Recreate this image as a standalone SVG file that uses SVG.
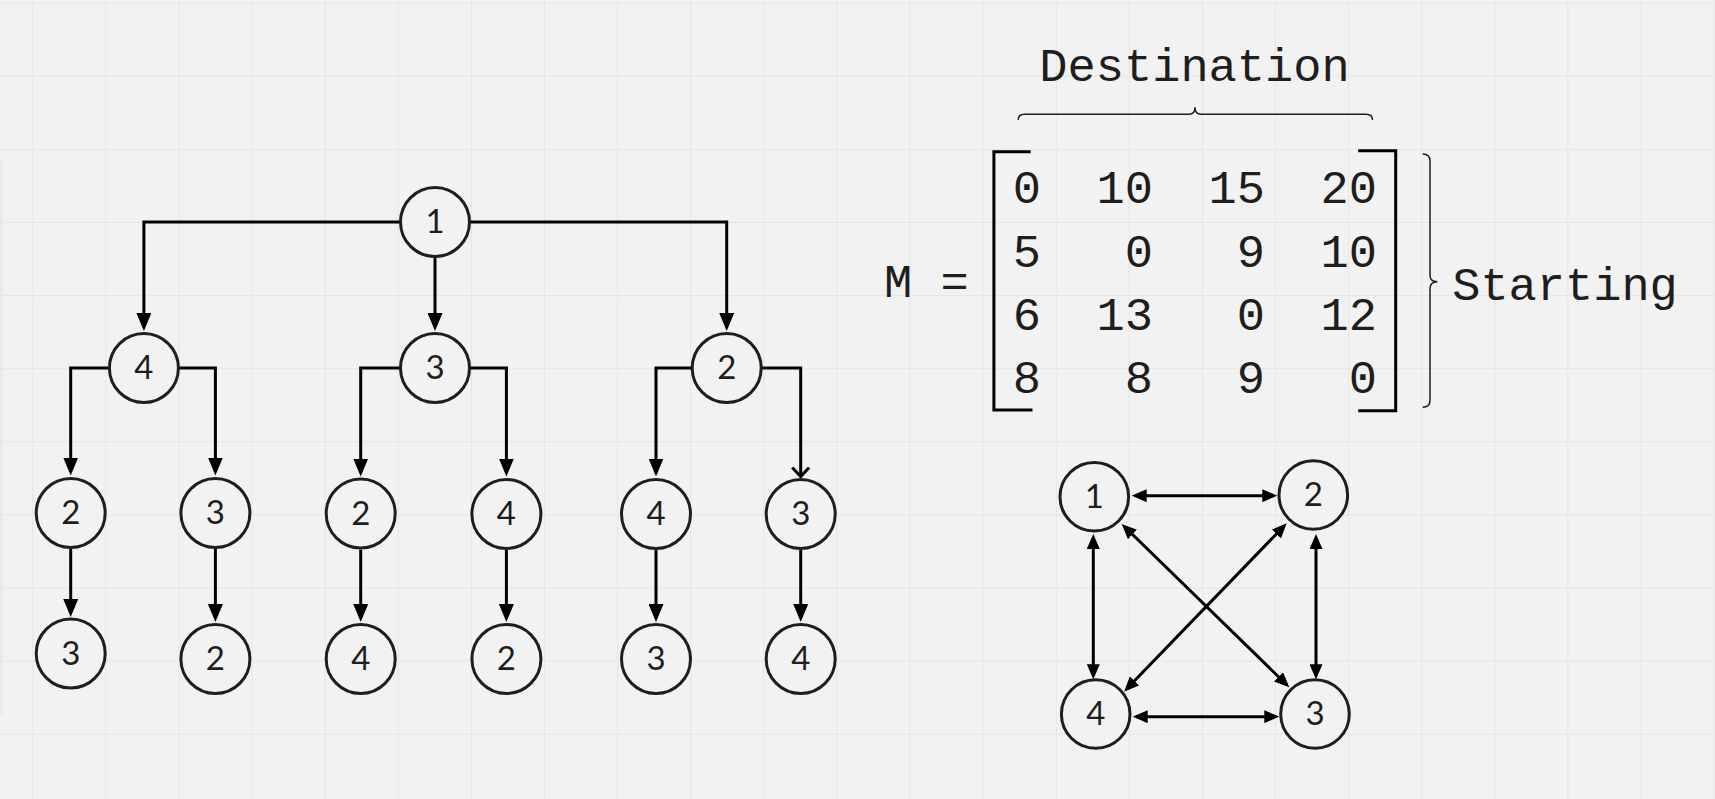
<svg xmlns="http://www.w3.org/2000/svg" width="1715" height="799" viewBox="0 0 1715 799">
  <style>
    .node circle { fill: #f2f2f2; stroke: #1e1e1e; stroke-width: 3; }
    .node text { font-family: Lato, "Noto Sans", sans-serif; font-size: 33px; fill: #1e1e1e; text-anchor: middle; }
    .edge { fill: none; stroke: #000; stroke-width: 3; }
    .mono { font-family: "Liberation Mono", "DejaVu Sans Mono", monospace; font-size: 47px; fill: #1e1e1e; }
    .cell { text-anchor: end; }
    .bracket { fill: none; stroke: #000; stroke-width: 3; }
    .brace { fill: none; stroke: #1e1e1e; stroke-width: 1.5; }
  </style>
  <defs>
    <pattern id="grid" x="32.3" y="2.7" width="73.1" height="73.1" patternUnits="userSpaceOnUse">
      <path d="M0.5 0 V73.1 M0 0.5 H73.1" fill="none" stroke="#e5e5e5" stroke-width="1"/>
    </pattern>
    <!-- filled arrowhead for the tree -->
    <marker id="arrow" viewBox="0 0 18 15" refX="14" refY="7.5" markerWidth="18" markerHeight="15" markerUnits="userSpaceOnUse" orient="auto">
      <path d="M0 0 L18 7.5 L0 15 z" fill="#000"/>
    </marker>
    <!-- open chevron head -->
    <marker id="chevron" viewBox="0 0 12 20" refX="10" refY="10" markerWidth="12" markerHeight="20" markerUnits="userSpaceOnUse" orient="auto">
      <path d="M1 1.5 L10 10 L1 18.5" fill="none" stroke="#000" stroke-width="3"/>
    </marker>
    <!-- double-headed arrows of the small graph -->
    <marker id="arrow2" viewBox="0 0 15 13" refX="11" refY="6.5" markerWidth="15" markerHeight="13" markerUnits="userSpaceOnUse" orient="auto-start-reverse">
      <path d="M0 0 L15 6.5 L0 13 z" fill="#000"/>
    </marker>
  </defs>

  <!-- canvas -->
  <rect width="1715" height="799" fill="#f2f2f2"/>
  <rect width="1715" height="799" fill="url(#grid)"/>
  <rect x="0" y="160" width="3" height="554" fill="#e9e9e9"/>

  <!-- tree connectors -->
  <g id="tree-edges">
    <path class="edge" d="M400 222 H143.9 V327" marker-end="url(#arrow)"/>
    <path class="edge" d="M435 257.5 V327" marker-end="url(#arrow)"/>
    <path class="edge" d="M470 222 H726.7 V327" marker-end="url(#arrow)"/>

    <path class="edge" d="M109.5 368 H70.7 V471.5" marker-end="url(#arrow)"/>
    <path class="edge" d="M178.5 368 H215.4 V471.5" marker-end="url(#arrow)"/>
    <path class="edge" d="M400.5 368 H360.7 V472.5" marker-end="url(#arrow)"/>
    <path class="edge" d="M469.5 368 H506.4 V472.5" marker-end="url(#arrow)"/>
    <path class="edge" d="M692 368 H656 V472.5" marker-end="url(#arrow)"/>
    <path class="edge" d="M761.5 368 H800.7 V476.5" marker-end="url(#chevron)"/>

    <path class="edge" d="M70.7 549 V613" marker-end="url(#arrow)"/>
    <path class="edge" d="M215.4 549 V618" marker-end="url(#arrow)"/>
    <path class="edge" d="M360.7 549.5 V618" marker-end="url(#arrow)"/>
    <path class="edge" d="M506.4 550 V618" marker-end="url(#arrow)"/>
    <path class="edge" d="M656 550 V618" marker-end="url(#arrow)"/>
    <path class="edge" d="M800.7 550 V618" marker-end="url(#arrow)"/>
  </g>

  <!-- tree nodes -->
  <g id="t-root" class="node"><circle cx="435" cy="222" r="34.5"/><text x="435" y="233">1</text></g>
  <g id="t-a4" class="node"><circle cx="143.9" cy="368" r="34.5"/><text x="143.9" y="379">4</text></g>
  <g id="t-a3" class="node"><circle cx="435" cy="368" r="34.5"/><text x="435" y="379">3</text></g>
  <g id="t-a2" class="node"><circle cx="726.7" cy="368" r="34.5"/><text x="726.7" y="379">2</text></g>

  <g id="t-b2" class="node"><circle cx="70.7" cy="513" r="34.5"/><text x="70.7" y="524">2</text></g>
  <g id="t-b3" class="node"><circle cx="215.4" cy="513" r="34.5"/><text x="215.4" y="524">3</text></g>
  <g id="t-c2" class="node"><circle cx="360.7" cy="513.5" r="34.5"/><text x="360.7" y="524.5">2</text></g>
  <g id="t-c4" class="node"><circle cx="506.4" cy="514" r="34.5"/><text x="506.4" y="525">4</text></g>
  <g id="t-d4" class="node"><circle cx="656" cy="514" r="34.5"/><text x="656" y="525">4</text></g>
  <g id="t-d3" class="node"><circle cx="800.7" cy="514" r="34.5"/><text x="800.7" y="525">3</text></g>

  <g id="t-b2-3" class="node"><circle cx="70.7" cy="653.5" r="34.5"/><text x="70.7" y="664.5">3</text></g>
  <g id="t-b3-2" class="node"><circle cx="215.4" cy="659" r="34.5"/><text x="215.4" y="670">2</text></g>
  <g id="t-c2-4" class="node"><circle cx="360.7" cy="659" r="34.5"/><text x="360.7" y="670">4</text></g>
  <g id="t-c4-2" class="node"><circle cx="506.4" cy="659" r="34.5"/><text x="506.4" y="670">2</text></g>
  <g id="t-d4-3" class="node"><circle cx="656" cy="659" r="34.5"/><text x="656" y="670">3</text></g>
  <g id="t-d3-4" class="node"><circle cx="800.7" cy="659" r="34.5"/><text x="800.7" y="670">4</text></g>

  <!-- cost matrix -->
  <g id="matrix">
    <text class="mono" x="1194.5" y="80.7" text-anchor="middle">Destination</text>
    <path class="brace" d="M1018.2 120 Q1018.2 114.3 1024.5 114.3 H1189 Q1195 114.3 1195 107.3 Q1195 114.3 1201 114.3 H1366 Q1372.5 114.3 1372.5 120"/>

    <text class="mono" x="884" y="296.7">M =</text>

    <path class="bracket" d="M1030.7 151.7 H993.9 V410 H1032.5"/>
    <path class="bracket" d="M1358.2 150.7 H1395.7 V410.7 H1358.2"/>

    <g class="mono cell">
      <text x="1041" y="203.3">0</text><text x="1153" y="203.3">10</text><text x="1265" y="203.3">15</text><text x="1377" y="203.3">20</text>
      <text x="1041" y="266.7">5</text><text x="1153" y="266.7">0</text><text x="1265" y="266.7">9</text><text x="1377" y="266.7">10</text>
      <text x="1041" y="330">6</text><text x="1153" y="330">13</text><text x="1265" y="330">0</text><text x="1377" y="330">12</text>
      <text x="1041" y="392.7">8</text><text x="1153" y="392.7">8</text><text x="1265" y="392.7">9</text><text x="1377" y="392.7">0</text>
    </g>

    <path class="brace" d="M1422.7 154 Q1430 154 1430 161 V275 Q1430 281.7 1437.3 281.7 Q1430 281.7 1430 288.5 V400.3 Q1430 407.3 1422.7 407.3"/>
    <text class="mono" x="1565" y="300" text-anchor="middle">Starting</text>
  </g>

  <!-- complete graph connectors -->
  <g id="graph-edges">
    <path class="edge" d="M1135.7 495.7 H1273.3" marker-start="url(#arrow2)" marker-end="url(#arrow2)"/>
    <path class="edge" d="M1136.7 716.7 H1275.3" marker-start="url(#arrow2)" marker-end="url(#arrow2)"/>
    <path class="edge" d="M1093.3 538 V675.3" marker-start="url(#arrow2)" marker-end="url(#arrow2)"/>
    <path class="edge" d="M1316 538 V675.3" marker-start="url(#arrow2)" marker-end="url(#arrow2)"/>
    <path class="edge" d="M1124.6 526.8 L1286.4 684.5" marker-start="url(#arrow2)" marker-end="url(#arrow2)"/>
    <path class="edge" d="M1283.9 526.2 L1126.8 688.8" marker-start="url(#arrow2)" marker-end="url(#arrow2)"/>
  </g>

  <!-- complete graph nodes -->
  <g id="g-1" class="node"><circle cx="1094.3" cy="496.7" r="34.3"/><text x="1094.3" y="507.5">1</text></g>
  <g id="g-2" class="node"><circle cx="1313.3" cy="495" r="34.3"/><text x="1313.3" y="506">2</text></g>
  <g id="g-4" class="node"><circle cx="1095.7" cy="714" r="34.3"/><text x="1095.7" y="725">4</text></g>
  <g id="g-3" class="node"><circle cx="1315" cy="714" r="34.3"/><text x="1315" y="725">3</text></g>
</svg>
